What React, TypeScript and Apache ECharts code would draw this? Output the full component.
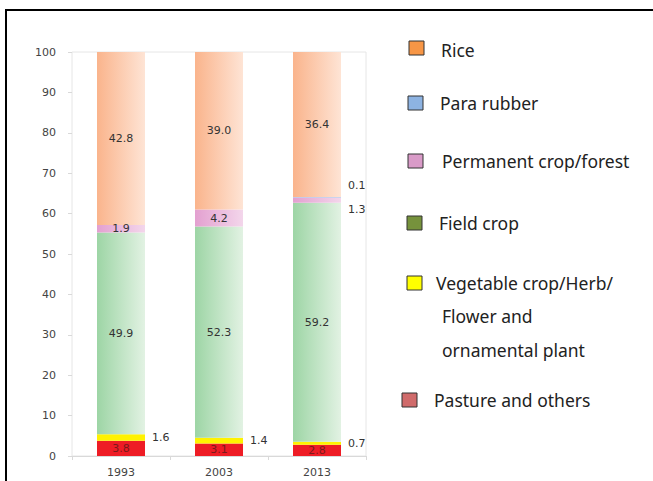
import React, { useEffect, useRef } from "react";
import * as echarts from "echarts";

const years = ["1993", "2003", "2013"];
const pasture = [3.8, 3.1, 2.8];
const vegetable = [1.6, 1.4, 0.7];
const fieldCrop = [49.9, 52.3, 59.2];
const permanent = [1.9, 4.2, 1.3];
const paraRubber = [0, 0, 0.1];
const rice = [42.8, 39.0, 36.4];
const yTicks = [0, 10, 20, 30, 40, 50, 60, 70, 80, 90, 100];

const legendNames = [
  "Rice",
  "Para rubber",
  "Permanent crop/forest",
  "Field crop",
  "Vegetable crop/Herb/",
  "Pasture and others",
];
const legendExtraLines = ["Flower and", "ornamental plant"];
const legendColors = ["#f79646", "#8db3e2", "#d99bc8", "#76923c", "#ffff00", "#d06b6b"];

const grad = (a: string, b: string) =>
  new echarts.graphic.LinearGradient(0, 0, 1, 0, [
    { offset: 0, color: a },
    { offset: 1, color: b },
  ]);

const fmt = (p: any) => (p.value ? Number(p.value).toFixed(1) : "");

export default function App() {
  const ref = useRef<HTMLDivElement>(null);
  useEffect(() => {
    if (!ref.current) return;
    const chart = echarts.init(ref.current, null, { renderer: "svg" });
    const labelFont = { fontFamily: "DejaVu Sans", fontSize: 11, color: "#333" };

    // legend layout (positions only)
    const sqPos = [
      [409, 41],
      [408, 96],
      [408, 154],
      [407, 216],
      [407, 276],
      [402, 393],
    ];
    const txtPos = [
      [441, 50],
      [440, 103],
      [442, 161],
      [439, 223],
      [436, 283],
      [434, 400],
    ];
    const extraPos = [
      [442, 316],
      [442, 350],
    ];
    const legendFont = { fontFamily: "Noto Sans", fontSize: 17.5, fill: "#222" };
    const graphics: any[] = [
      { type: "rect", shape: { x: 5, y: 9, width: 2, height: 480 }, style: { fill: "#000" } },
      { type: "rect", shape: { x: 5, y: 9, width: 660, height: 2 }, style: { fill: "#000" } },
    ];
    legendNames.forEach((n, i) => {
      graphics.push({
        type: "rect",
        shape: { x: sqPos[i][0], y: sqPos[i][1], width: 15, height: 14 },
        style: { fill: legendColors[i], stroke: "#333", lineWidth: 1 },
      });
      graphics.push({
        type: "text",
        x: txtPos[i][0],
        y: txtPos[i][1],
        style: { text: n, ...legendFont, verticalAlign: "middle" },
      });
    });
    legendExtraLines.forEach((n, i) => {
      graphics.push({
        type: "text",
        x: extraPos[i][0],
        y: extraPos[i][1],
        style: { text: n, ...legendFont, verticalAlign: "middle" },
      });
    });

    const barW = 48;
    chart.setOption({
      animation: false,
      backgroundColor: "#fff",
      grid: {
        left: 72,
        right: 287,
        top: 52,
        bottom: 25,
        outerBoundsMode: "none",
        containLabel: false,
        show: true,
        borderColor: "#e6e6e6",
        borderWidth: 1,
      },
      xAxis: {
        type: "category",
        data: years,
        axisLine: { lineStyle: { color: "#d9d9d9" } },
        axisTick: { show: true, length: 4, lineStyle: { color: "#d9d9d9" } },
        axisLabel: { ...labelFont, color: "#444", margin: 11 },
      },
      yAxis: {
        type: "value",
        min: yTicks[0],
        max: yTicks[yTicks.length - 1],
        interval: 10,
        splitLine: { show: false },
        axisLine: { show: false },
        axisTick: { show: true, length: 4, lineStyle: { color: "#d9d9d9" } },
        axisLabel: { ...labelFont, color: "#444", margin: 16 },
      },
      graphic: graphics,
      series: [
        {
          name: "Pasture and others",
          type: "bar",
          stack: "a",
          barWidth: barW,
          data: pasture,
          itemStyle: { color: "#ee1c25" },
          label: { show: true, position: "inside", ...labelFont, color: "#7a1a1a", formatter: fmt },
        },
        {
          name: "Vegetable crop/Herb/Flower and ornamental plant",
          type: "bar",
          stack: "a",
          barWidth: barW,
          data: vegetable,
          itemStyle: { color: "#fff200" },
          label: { show: true, position: "right", distance: 7, ...labelFont, formatter: fmt },
        },
        {
          name: "Field crop",
          type: "bar",
          stack: "a",
          barWidth: barW,
          data: fieldCrop,
          itemStyle: { color: grad("#9dd5a5", "#e2f2e3") },
          label: { show: true, position: "inside", ...labelFont, formatter: fmt },
        },
        {
          name: "Permanent crop/forest",
          type: "bar",
          stack: "a",
          barWidth: barW,
          data: permanent.map((v, i) =>
            i === 2
              ? { value: v, label: { position: "right", distance: 7, offset: [0, 9] } }
              : { value: v }
          ),
          itemStyle: { color: grad("#e3a0d0", "#f3d6eb") },
          label: { show: true, position: "inside", ...labelFont, formatter: fmt },
        },
        {
          name: "Para rubber",
          type: "bar",
          stack: "a",
          barWidth: barW,
          data: paraRubber.map((v) => ({ value: v, label: { show: v > 0 } })),
          itemStyle: { color: "#9cc0e8" },
          label: { position: "right", distance: 7, offset: [0, -12], ...labelFont, formatter: fmt },
        },
        {
          name: "Rice",
          type: "bar",
          stack: "a",
          barWidth: barW,
          data: rice,
          itemStyle: { color: grad("#fab48c", "#fee4d5") },
          label: { show: true, position: "inside", ...labelFont, formatter: fmt },
        },
      ],
    });
    return () => chart.dispose();
  }, []);
  return (
    <div
      ref={ref}
      style={{ position: "absolute", left: 0, top: 0, width: 653, height: 481 }}
    />
  );
}
